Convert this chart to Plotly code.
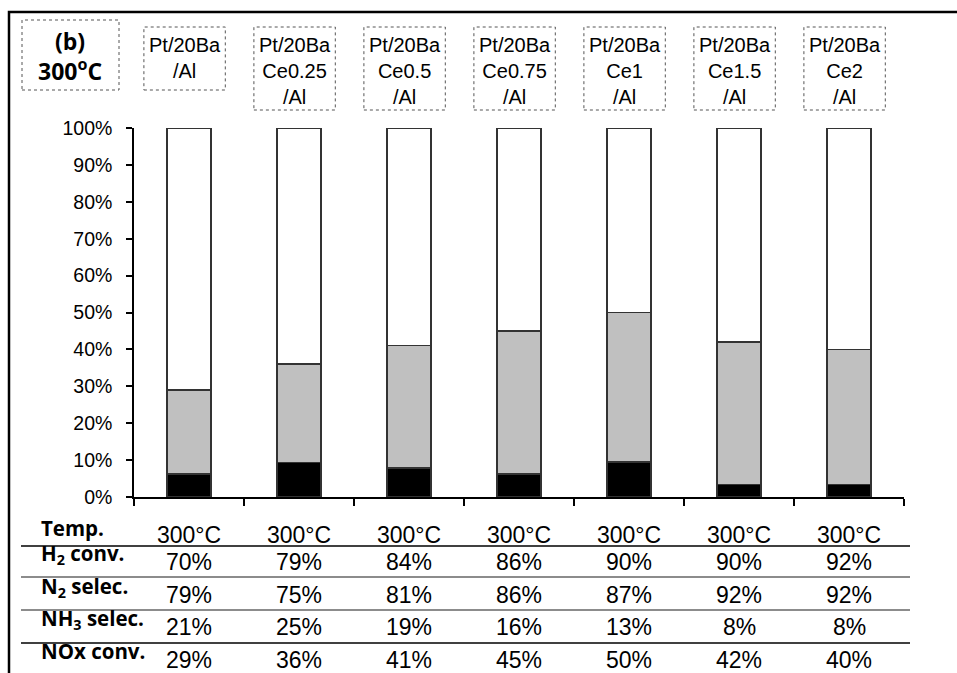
import plotly.graph_objects as go

# Catalyst series and the measured performance at 300 °C
catalysts = [
    "Pt/20Ba<br>/Al",
    "Pt/20Ba<br>Ce0.25<br>/Al",
    "Pt/20Ba<br>Ce0.5<br>/Al",
    "Pt/20Ba<br>Ce0.75<br>/Al",
    "Pt/20Ba<br>Ce1<br>/Al",
    "Pt/20Ba<br>Ce1.5<br>/Al",
    "Pt/20Ba<br>Ce2<br>/Al",
]
temps = ["300°C"] * 7
h2_conv = [70, 79, 84, 86, 90, 90, 92]
n2_selec = [79, 75, 81, 86, 87, 92, 92]
nh3_selec = [21, 25, 19, 16, 13, 8, 8]
nox_conv = [29, 36, 41, 45, 50, 42, 40]
# NOx converted to NH3 (black part of each bar), %
nh3_yield = [6.3, 9.3, 7.8, 6.3, 9.5, 3.4, 3.4]

row_labels = ["Temp.", "H<sub>2</sub> conv.", "N<sub>2</sub> selec.",
              "NH<sub>3</sub> selec.", "NOx conv."]
panel_label = "<b>(b)</b><br><b>300<sup>o</sup>C</b>"
y_ticks = list(range(0, 101, 10))
y_tick_text = [f"{v}%" for v in y_ticks]

n2_part = [n - b for n, b in zip(nox_conv, nh3_yield)]
rest = [100 - n for n in nox_conv]
xpos = [i + 0.5 for i in range(len(catalysts))]

# page geometry (pixels) used to place the frame, header boxes and table
W, H = 957, 673
L, R, T, B = 134, 53, 128, 176
pw, ph = W - L - R, H - T - B


def px(x):
    return (x - L) / pw


def py(y):
    return (H - B - y) / ph


fig = go.Figure()
bar_line = dict(color="#333333", width=1.5)
for vals, col in [(nh3_yield, "#000000"), (n2_part, "#c0c0c0"), (rest, "#ffffff")]:
    fig.add_trace(go.Bar(x=xpos, y=vals, width=0.4, marker=dict(color=col, line=bar_line),
                         showlegend=False, hoverinfo="skip"))

shapes = []
annotations = []

# outer frame (left and top edges)
shapes.append(dict(type="path", xref="paper", yref="paper",
                   path=f"M {px(9)} {py(H + 5)} L {px(9)} {py(12)} L {px(W + 5)} {py(12)}",
                   line=dict(color="black", width=2.5)))

# panel label box
shapes.append(dict(type="rect", xref="paper", yref="paper",
                   x0=px(22), x1=px(119), y0=py(90), y1=py(20),
                   line=dict(color="#555555", width=1, dash="dot")))
annotations.append(dict(text=panel_label, xref="paper", yref="paper", x=px(70), y=py(56),
                        xanchor="center", yanchor="middle", showarrow=False,
                        font=dict(family="Open Sans", size=23, color="black")))

# catalyst header boxes
for i, name in enumerate(catalysts):
    nlines = name.count("<br>") + 1
    cx = xpos[i] - 0.04
    bottom = 90 if nlines == 2 else 110
    shapes.append(dict(type="rect", xref="x", yref="paper",
                       x0=cx - 0.37, x1=cx + 0.37, y0=py(bottom), y1=py(27),
                       line=dict(color="#555555", width=1, dash="dot")))
    annotations.append(dict(text=name, xref="x", yref="paper", x=cx, y=py(32),
                            xanchor="center", yanchor="top", showarrow=False,
                            font=dict(family="Liberation Sans", size=20, color="black")))

# table beneath the chart
row_value_y = [535, 562, 595, 627, 660]
row_label_y = [528, 554, 587, 619, 651]
rows = [temps,
        [f"{v}%" for v in h2_conv],
        [f"{v}%" for v in n2_selec],
        [f"{v}%" for v in nh3_selec],
        [f"{v}%" for v in nox_conv]]
for label, ly, vy, vals in zip(row_labels, row_label_y, row_value_y, rows):
    annotations.append(dict(text=f"<b>{label}</b>", xref="paper", yref="paper",
                            x=px(39), y=py(ly), xanchor="left", yanchor="middle",
                            showarrow=False,
                            font=dict(family="Open Sans", size=20.5, color="black")))
    for x, v in zip(xpos, vals):
        annotations.append(dict(text=v, xref="x", yref="paper", x=x, y=py(vy),
                                xanchor="center", yanchor="middle", showarrow=False,
                                font=dict(family="Liberation Sans", size=23, color="black")))

for ly, col in [(546, "black"), (577, "#666666"), (610, "#666666"), (643, "black")]:
    shapes.append(dict(type="line", xref="paper", yref="paper",
                       x0=px(21), x1=px(910), y0=py(ly), y1=py(ly),
                       line=dict(color=col, width=1.5)))

fig.update_layout(
    width=W, height=H,
    margin=dict(l=L, r=R, t=T, b=B),
    barmode="stack",
    paper_bgcolor="white", plot_bgcolor="white",
    showlegend=False,
    hovermode=False,
    shapes=shapes,
    annotations=annotations,
    xaxis=dict(range=[0, len(catalysts)], tickvals=list(range(len(catalysts) + 1)),
               showticklabels=False, ticks="outside", ticklen=7, tickwidth=1.5,
               tickcolor="black", showline=True, linecolor="black", linewidth=1.5,
               showgrid=False, zeroline=False),
    yaxis=dict(range=[0, 100], tickmode="array", tickvals=y_ticks, ticktext=y_tick_text,
               ticks="outside", ticklen=6, tickwidth=1.5, tickcolor="black",
               showline=True, linecolor="black", linewidth=1.5,
               showgrid=False, zeroline=False, ticklabelstandoff=10,
               tickfont=dict(family="Liberation Sans", size=19.5, color="black")),
)

fig.write_html("out.html")
